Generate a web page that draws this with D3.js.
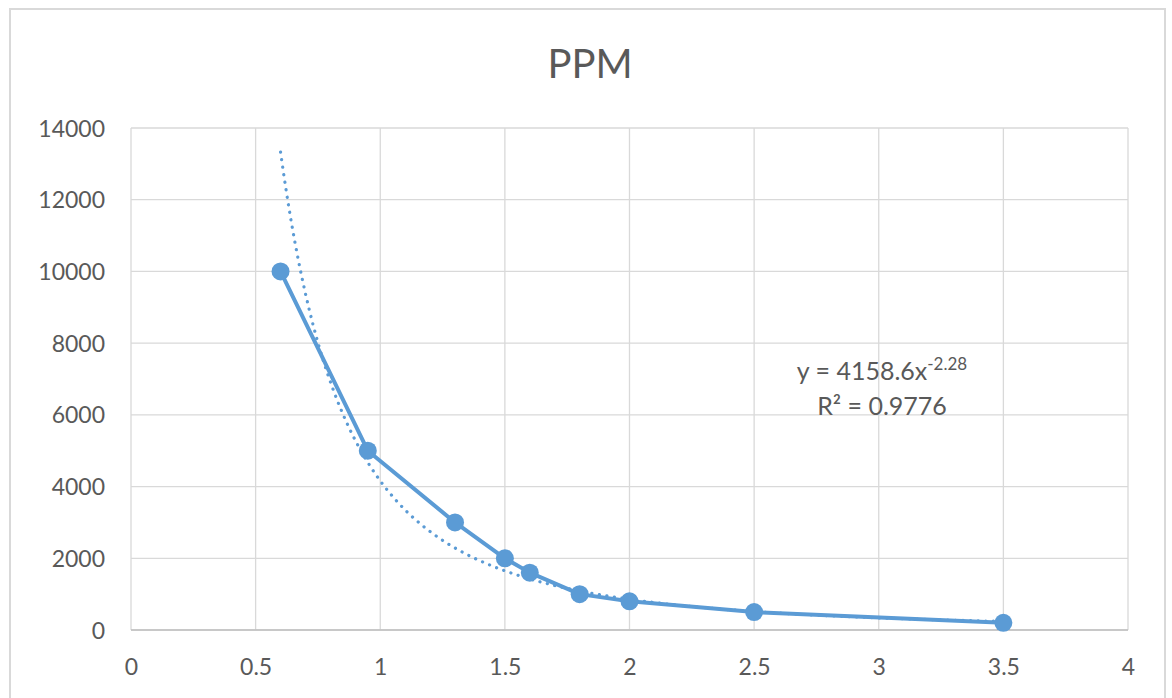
<!DOCTYPE html>
<html>
<head>
<meta charset="utf-8">
<script src="https://cdn.jsdelivr.net/npm/d3@7"></script>
<style>
  body { margin: 0; background: #fff; }
  svg { display: block; }
</style>
</head>
<body>
<div id="chart"></div>
<script>
// data
const xValues = [0.6, 0.95, 1.3, 1.5, 1.6, 1.8, 2, 2.5, 3.5];
const ppmValues = [10000, 5000, 3000, 2000, 1600, 1000, 800, 500, 200];
const xTicks = [0, 0.5, 1, 1.5, 2, 2.5, 3, 3.5, 4];
const yTicks = [0, 2000, 4000, 6000, 8000, 10000, 12000, 14000];
// power trendline as printed on the chart
const trendA = 4158.6;
const trendB = -2.28;
const trendLabel = ["y = 4158.6x", "-2.28", "R² = 0.9776"];

const width = 1172, height = 698;
const margin = { left: 131, right: 44, top: 128, bottom: 68 };
const blue = "#5b9bd5";
const font = "Lato, 'Open Sans', sans-serif";

const svg = d3.select("#chart").append("svg")
    .attr("width", width)
    .attr("height", height);

// outer chart frame
svg.append("rect")
    .attr("x", 10).attr("y", 9)
    .attr("width", 1155).attr("height", 720)
    .attr("fill", "#fff")
    .attr("stroke", "#d9d9d9")
    .attr("stroke-width", 2);

const x = d3.scaleLinear().domain([0, 4]).range([margin.left, width - margin.right]);
const y = d3.scaleLinear().domain([0, 14000]).range([height - margin.bottom, margin.top]);

// grid
svg.append("g").selectAll("line.h")
    .data(yTicks)
    .enter().append("line")
    .attr("x1", x(0)).attr("x2", x(4))
    .attr("y1", d => y(d)).attr("y2", d => y(d))
    .style("stroke", "#d9d9d9").style("stroke-width", 1.3);

svg.append("g").selectAll("line.v")
    .data(xTicks)
    .enter().append("line")
    .attr("x1", d => x(d)).attr("x2", d => x(d))
    .attr("y1", y(0)).attr("y2", y(14000))
    .style("stroke", "#d9d9d9").style("stroke-width", 1.3);

// x axis line
svg.append("line")
    .attr("x1", x(0)).attr("x2", x(4))
    .attr("y1", y(0)).attr("y2", y(0))
    .style("stroke", "#bfbfbf").style("stroke-width", 1.5);

// tick labels
const xAxis = svg.append("g")
    .attr("transform", `translate(0,${y(0) + 37})`)
    .call(d3.axisBottom(x).tickValues(xTicks).tickSize(0).tickFormat(d3.format("")));
xAxis.select(".domain").remove();
xAxis.selectAll("text")
    .attr("y", 0)
    .attr("dy", "0.35em")
    .style("font-family", font).style("font-size", "23px").style("fill", "#595959");

const yAxis = svg.append("g")
    .attr("transform", `translate(${x(0) - 26},0)`)
    .call(d3.axisLeft(y).tickValues(yTicks).tickSize(0).tickFormat(d3.format("")));
yAxis.select(".domain").remove();
yAxis.selectAll("text")
    .attr("x", 0)
    .attr("dy", "0.35em")
    .style("font-family", font).style("font-size", "23px").style("fill", "#595959");

// title
svg.append("text")
    .attr("x", 590).attr("y", 78)
    .style("text-anchor", "middle")
    .style("font-family", font).style("font-size", "40px").style("fill", "#595959")
    .text("PPM");

// trendline
const trendX = d3.range(0, 201).map(i => xValues[0] + (xValues[xValues.length - 1] - xValues[0]) * i / 200);
svg.append("path")
    .datum(trendX)
    .attr("fill", "none")
    .attr("stroke", blue)
    .attr("stroke-width", 3.2)
    .attr("stroke-linecap", "round")
    .attr("stroke-dasharray", "0.1 7.5")
    .attr("d", d3.line().x(d => x(d)).y(d => y(trendA * Math.pow(d, trendB))));

// series
const points = xValues.map((v, i) => ({ x: v, y: ppmValues[i] }));
svg.append("path")
    .datum(points)
    .attr("fill", "none")
    .attr("stroke", blue)
    .attr("stroke-width", 4)
    .attr("stroke-linejoin", "round")
    .attr("d", d3.line().x(d => x(d.x)).y(d => y(d.y)));

svg.append("g").selectAll("circle")
    .data(points)
    .enter().append("circle")
    .attr("cx", d => x(d.x))
    .attr("cy", d => y(d.y))
    .attr("r", 9)
    .attr("fill", blue);

// trendline label
const eq = svg.append("text")
    .attr("x", 882).attr("y", 380)
    .style("text-anchor", "middle")
    .style("font-family", font).style("font-size", "25px").style("fill", "#595959");
eq.append("tspan").text(trendLabel[0]);
eq.append("tspan").attr("dy", -10).style("font-size", "17px").text(trendLabel[1]);

svg.append("text")
    .attr("x", 882).attr("y", 415)
    .style("text-anchor", "middle")
    .style("font-family", font).style("font-size", "25px").style("fill", "#595959")
    .text(trendLabel[2]);
</script>
</body>
</html>
